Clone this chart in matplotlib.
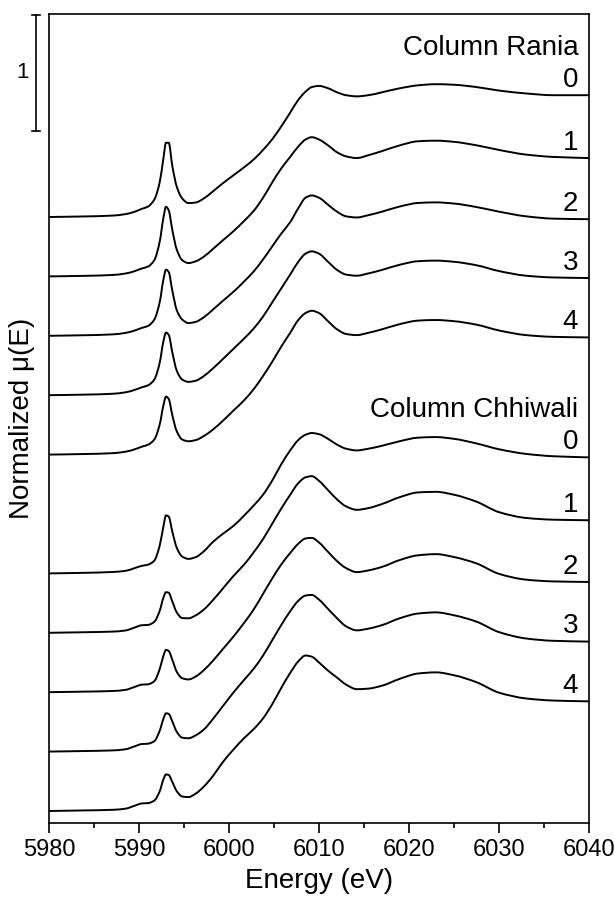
import numpy as np
import matplotlib.pyplot as plt
import matplotlib.transforms as mtransforms
from matplotlib.path import Path
from matplotlib.patches import PathPatch

plt.rcParams['font.family'] = ['Liberation Sans', 'DejaVu Sans']

energy = [5980, 5984, 5987, 5988.5, 5989.5, 5990.3, 5991.0, 5991.7, 5992.3, 5992.7,
          5993.0, 5993.3, 5993.7, 5994.2, 5994.8, 5995.5, 5996.3, 5997.2, 5998.2, 5999.3,
          6000.5, 6001.7, 6002.8, 6003.8, 6004.8, 6005.8, 6006.8, 6007.7, 6008.5, 6009.2,
          6010.0, 6011.0, 6012.0, 6013.0, 6014.2, 6015.5, 6017, 6019, 6021, 6023,
          6025, 6027.5, 6030, 6033, 6036, 6040]

# Column Rania, samples 0-4
rania_0 = [0, 0.005, 0.012, 0.025, 0.045, 0.07, 0.09, 0.15, 0.30, 0.50,
           0.64, 0.64, 0.44, 0.26, 0.16, 0.12, 0.125, 0.16, 0.22, 0.29,
           0.36, 0.43, 0.50, 0.58, 0.67, 0.78, 0.90, 1.01, 1.08, 1.12,
           1.13, 1.11, 1.075, 1.05, 1.04, 1.05, 1.075, 1.11, 1.135, 1.145,
           1.14, 1.12, 1.09, 1.065, 1.05, 1.05]
rania_1 = [0, 0.005, 0.012, 0.025, 0.045, 0.068, 0.085, 0.14, 0.30, 0.50,
           0.60, 0.57, 0.40, 0.23, 0.14, 0.115, 0.13, 0.17, 0.235, 0.31,
           0.39, 0.48, 0.57, 0.68, 0.81, 0.93, 1.03, 1.12, 1.18, 1.20,
           1.18, 1.13, 1.07, 1.035, 1.02, 1.045, 1.08, 1.13, 1.165, 1.17,
           1.16, 1.13, 1.09, 1.05, 1.03, 1.02]
rania_2 = [0, 0.005, 0.012, 0.025, 0.045, 0.068, 0.085, 0.14, 0.29, 0.48,
           0.57, 0.55, 0.39, 0.22, 0.14, 0.11, 0.12, 0.16, 0.225, 0.30,
           0.38, 0.47, 0.56, 0.66, 0.77, 0.88, 0.98, 1.10, 1.19, 1.21,
           1.19, 1.13, 1.07, 1.03, 1.02, 1.04, 1.07, 1.115, 1.145, 1.15,
           1.14, 1.11, 1.07, 1.03, 1.01, 1.005]
rania_3 = [0, 0.005, 0.012, 0.025, 0.045, 0.068, 0.085, 0.135, 0.28, 0.46,
           0.54, 0.52, 0.37, 0.21, 0.135, 0.115, 0.125, 0.165, 0.23, 0.31,
           0.40, 0.49, 0.58, 0.68, 0.80, 0.92, 1.04, 1.15, 1.22, 1.24,
           1.22, 1.15, 1.08, 1.04, 1.03, 1.05, 1.08, 1.125, 1.155, 1.16,
           1.15, 1.12, 1.07, 1.03, 1.015, 1.01]
rania_4 = [0, 0.005, 0.012, 0.025, 0.045, 0.068, 0.085, 0.13, 0.26, 0.42,
           0.50, 0.48, 0.34, 0.20, 0.13, 0.115, 0.125, 0.16, 0.215, 0.29,
           0.38, 0.47, 0.57, 0.68, 0.80, 0.93, 1.05, 1.16, 1.22, 1.24,
           1.22, 1.15, 1.08, 1.04, 1.03, 1.05, 1.08, 1.125, 1.155, 1.16,
           1.15, 1.12, 1.07, 1.03, 1.015, 1.01]

# Column Chhiwali, samples 0-4
chhiwali_0 = [0, 0.005, 0.012, 0.022, 0.045, 0.065, 0.075, 0.11, 0.24, 0.40,
              0.50, 0.49, 0.36, 0.22, 0.145, 0.125, 0.14, 0.19, 0.27, 0.34,
              0.41, 0.50, 0.59, 0.68, 0.80, 0.94, 1.06, 1.15, 1.195, 1.21,
              1.20, 1.16, 1.11, 1.075, 1.06, 1.075, 1.10, 1.14, 1.17, 1.175,
              1.16, 1.12, 1.07, 1.03, 1.01, 1.0]
chhiwali_1 = [0, 0.005, 0.01, 0.02, 0.045, 0.065, 0.068, 0.095, 0.19, 0.30,
              0.35, 0.345, 0.27, 0.175, 0.127, 0.125, 0.15, 0.20, 0.28, 0.38,
              0.49, 0.59, 0.70, 0.81, 0.94, 1.07, 1.19, 1.29, 1.34, 1.35,
              1.31, 1.23, 1.15, 1.09, 1.06, 1.075, 1.11, 1.17, 1.21, 1.215,
              1.19, 1.13, 1.04, 0.99, 0.975, 0.97]
chhiwali_2 = [0, 0.005, 0.01, 0.02, 0.045, 0.065, 0.068, 0.095, 0.20, 0.31,
              0.365, 0.355, 0.28, 0.175, 0.12, 0.11, 0.135, 0.19, 0.27, 0.37,
              0.48, 0.60, 0.72, 0.85, 0.98, 1.10, 1.20, 1.28, 1.325, 1.33,
              1.29, 1.21, 1.13, 1.07, 1.035, 1.05, 1.08, 1.14, 1.18, 1.19,
              1.165, 1.11, 1.02, 0.97, 0.955, 0.95]
chhiwali_3 = [0, 0.005, 0.01, 0.02, 0.045, 0.065, 0.068, 0.09, 0.18, 0.28,
              0.33, 0.325, 0.26, 0.17, 0.12, 0.115, 0.14, 0.19, 0.28, 0.39,
              0.51, 0.62, 0.72, 0.83, 0.96, 1.09, 1.21, 1.30, 1.345, 1.35,
              1.31, 1.23, 1.15, 1.08, 1.045, 1.06, 1.09, 1.15, 1.19, 1.20,
              1.175, 1.12, 1.03, 0.975, 0.955, 0.948]
chhiwali_4 = [0, 0.005, 0.01, 0.02, 0.045, 0.065, 0.068, 0.09, 0.17, 0.27,
              0.315, 0.31, 0.25, 0.17, 0.125, 0.12, 0.15, 0.21, 0.30, 0.42,
              0.53, 0.63, 0.71, 0.80, 0.92, 1.06, 1.19, 1.29, 1.34, 1.33,
              1.28, 1.21, 1.15, 1.09, 1.05, 1.055, 1.08, 1.14, 1.185, 1.195,
              1.17, 1.11, 1.02, 0.97, 0.952, 0.945]

rania = [rania_0, rania_1, rania_2, rania_3, rania_4]
chhiwali = [chhiwali_0, chhiwali_1, chhiwali_2, chhiwali_3, chhiwali_4]
sample_labels = ["0", "1", "2", "3", "4"]
group_names = ["Column Rania", "Column Chhiwali"]

step = 0.512  # vertical offset between stacked spectra


def smooth_path(x, y):
    """Monotone cubic (Hermite) path through the points, as Bezier segments."""
    x = np.asarray(x, float)
    y = np.asarray(y, float)
    h = np.diff(x)
    d = np.diff(y) / h
    m = np.zeros_like(y)
    for i in range(1, len(x) - 1):
        if d[i - 1] * d[i] > 0:
            w1 = 2 * h[i] + h[i - 1]
            w2 = h[i] + 2 * h[i - 1]
            m[i] = (w1 + w2) / (w1 / d[i - 1] + w2 / d[i])
    m[0] = d[0]
    m[-1] = d[-1]
    verts = [(x[0], y[0])]
    codes = [Path.MOVETO]
    for i in range(len(x) - 1):
        verts += [(x[i] + h[i] / 3, y[i] + m[i] * h[i] / 3),
                  (x[i + 1] - h[i] / 3, y[i + 1] - m[i + 1] * h[i] / 3),
                  (x[i + 1], y[i + 1])]
        codes += [Path.CURVE4] * 3
    return Path(verts, codes)


fig = plt.figure(figsize=(6.15, 9.08), dpi=100)
ax = fig.add_axes([0.0797, 0.0933, 0.8780, 0.8913])

# slot 10 is the top spectrum, slot 5 is left empty between the two columns
groups = [(rania, [10, 9, 8, 7, 6]), (chhiwali, [4, 3, 2, 1, 0])]
for g, (spectra, slots) in enumerate(groups):
    for i, (mu, slot) in enumerate(zip(spectra, slots)):
        y = np.array(mu) + slot * step
        ax.add_patch(PathPatch(smooth_path(energy, y), facecolor="none",
                               edgecolor="black", lw=1.4))
        ax.text(6038.8, y[-1] + 0.07, sample_labels[i], ha="right",
                va="baseline", fontsize=20)
        if i == 0:
            ax.text(6038.8, y[-1] + 0.35, group_names[g], ha="right",
                    va="baseline", fontsize=20)

ax.set_xlim(5980, 6040)
ax.set_ylim(-0.106, 6.87)
ax.set_xticks(np.arange(5980, 6041, 10))
ax.set_xticks(np.arange(5985, 6040, 10), minor=True)
ax.tick_params(axis="x", which="major", direction="out", length=7, width=1.2,
               labelsize=17, pad=4)
ax.tick_params(axis="x", which="minor", direction="out", length=3.5, width=1.2)
ax.set_yticks([])
for sp in ax.spines.values():
    sp.set_linewidth(1.2)

ax.set_xlabel("Energy (eV)", fontsize=20, labelpad=5)
ax.set_ylabel("Normalized μ(E)", fontsize=20, labelpad=10)

# scale bar: one unit of normalized absorption
trans = mtransforms.blended_transform_factory(ax.transAxes, ax.transData)
bar_x = -0.024
bar_top = 6.862
ax.plot([bar_x, bar_x], [bar_top - 1, bar_top], color="black", lw=1.2,
        transform=trans, clip_on=False)
for yy in (bar_top - 1, bar_top):
    ax.plot([bar_x - 0.0075, bar_x + 0.0075], [yy, yy], color="black", lw=1.2,
            transform=trans, clip_on=False)
ax.text(-0.05, bar_top - 0.5, "1", transform=trans, ha="center", va="center",
        fontsize=16)

fig.savefig("out.png", dpi=100)
